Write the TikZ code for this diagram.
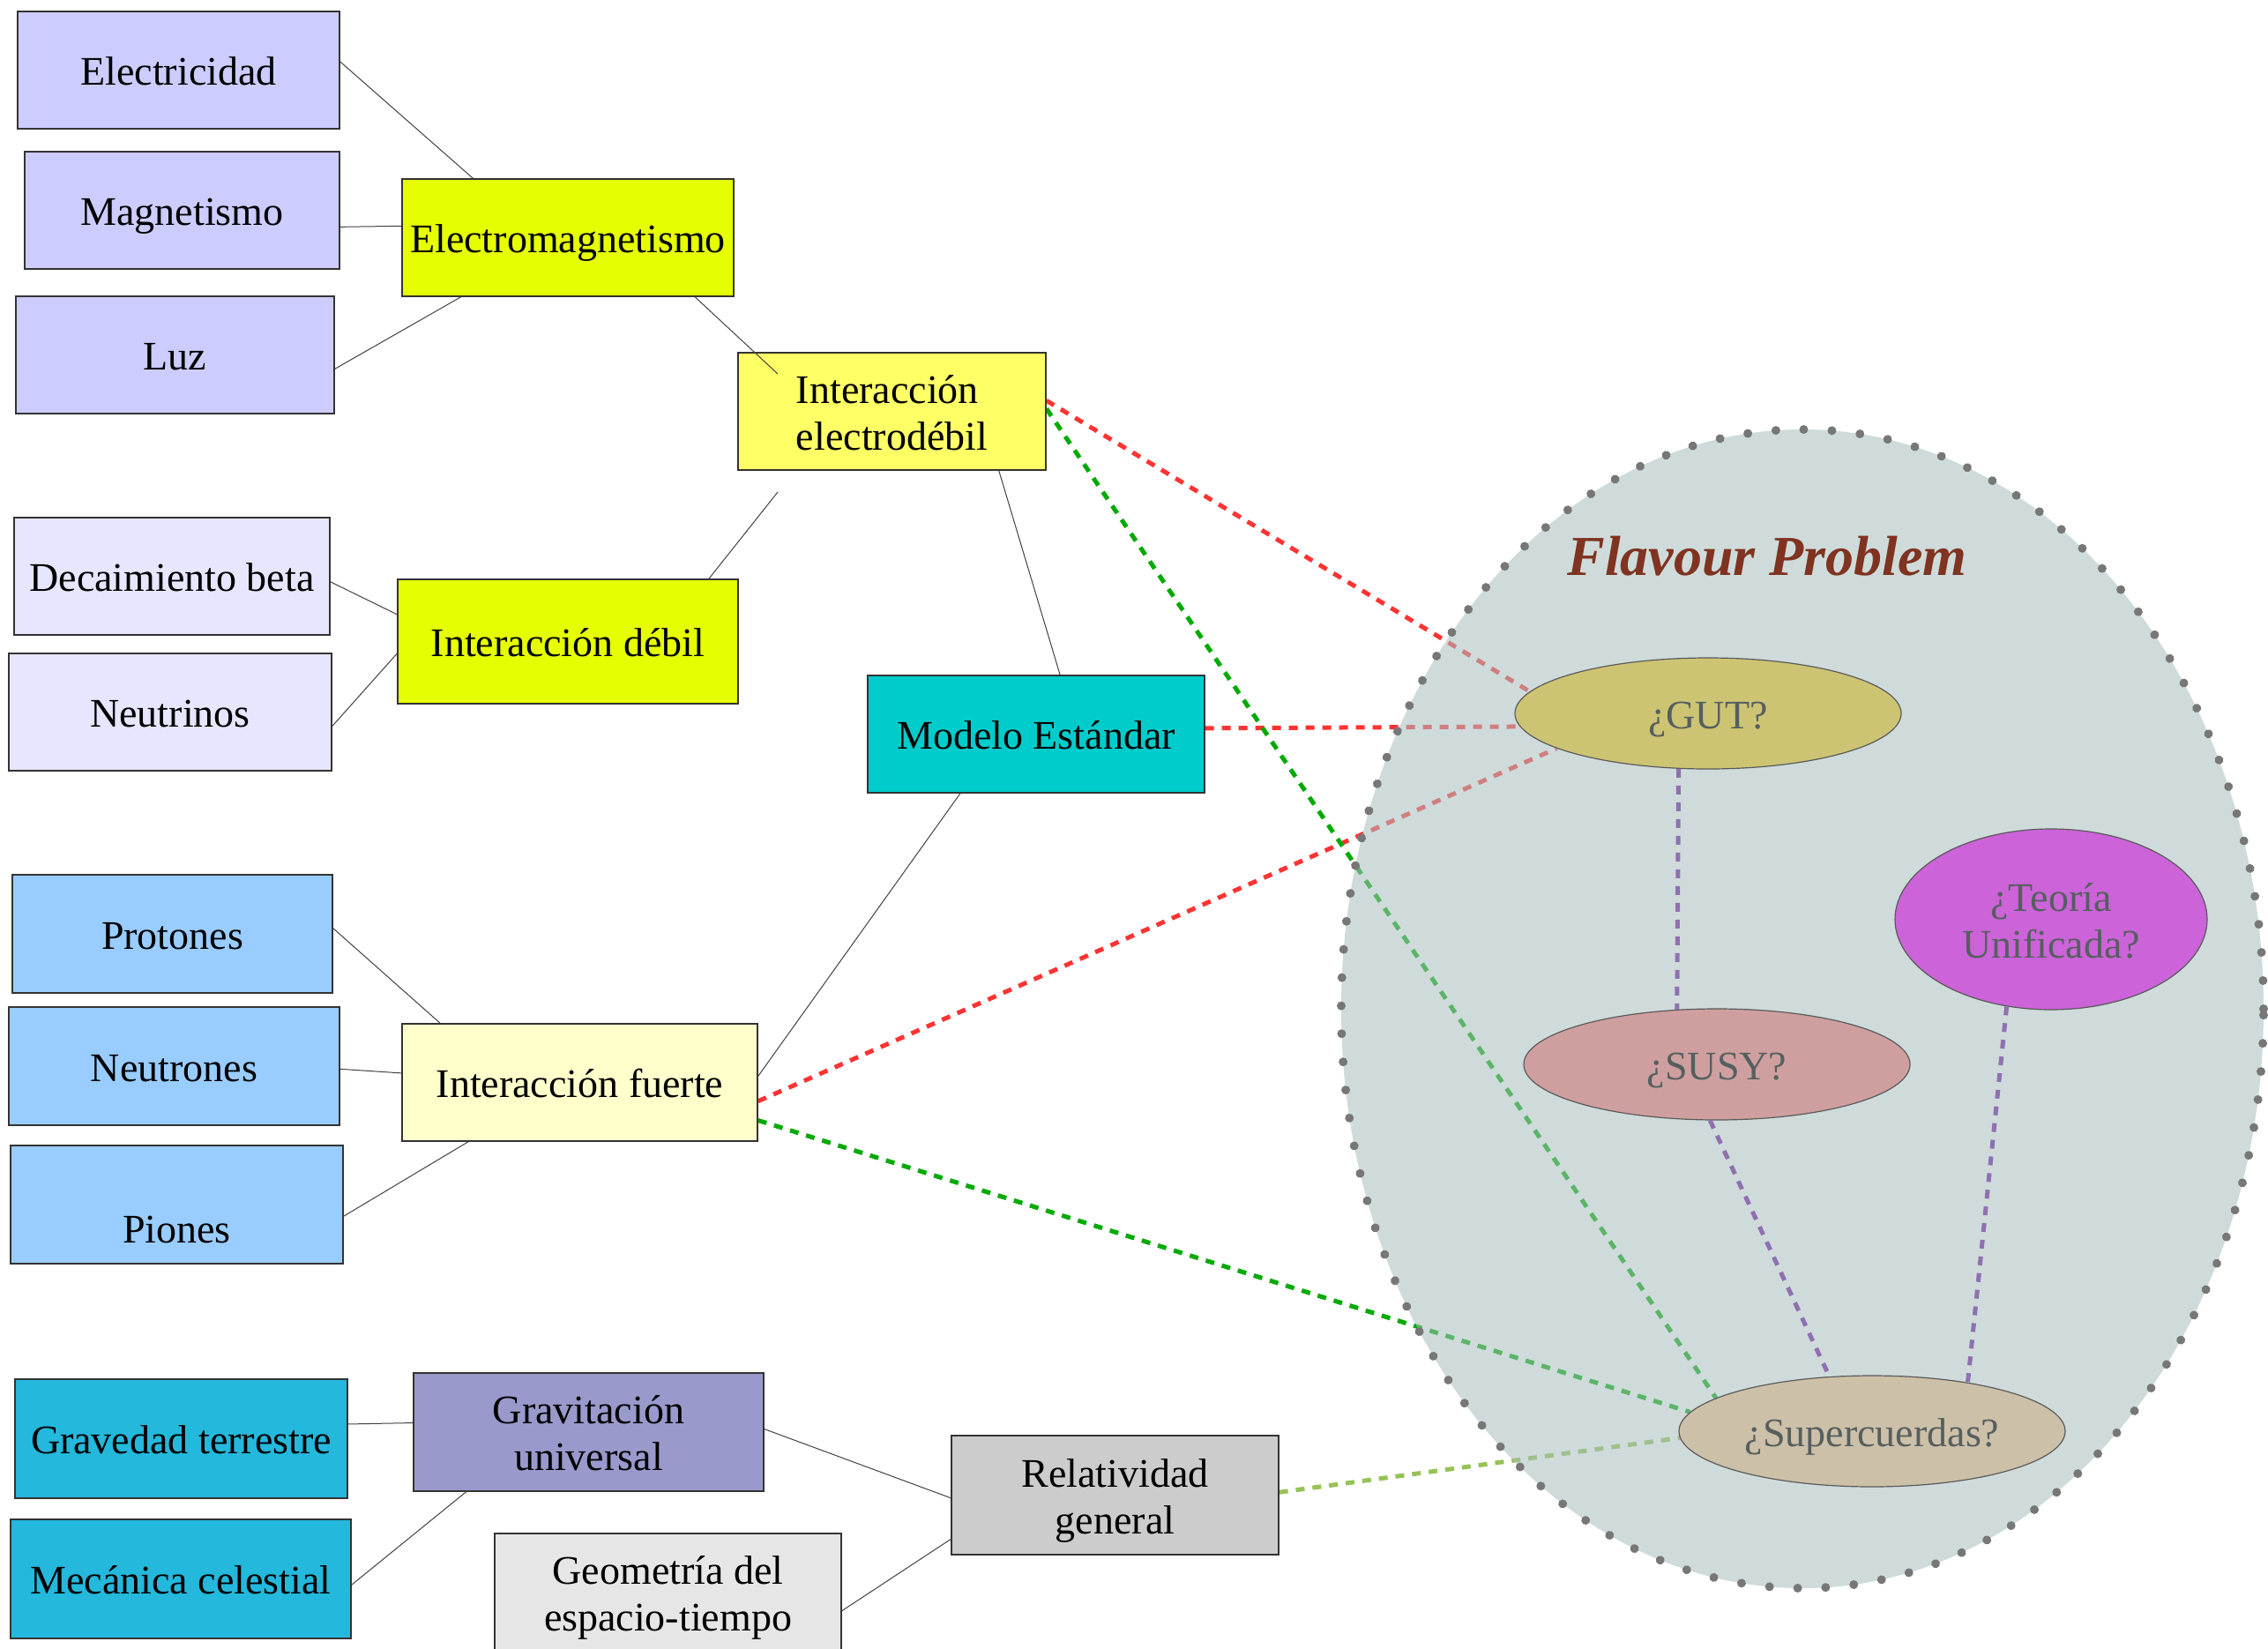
\documentclass[tikz,border=0pt]{standalone}
\usepackage{fontspec}
\setmainfont{Liberation Serif}
\usetikzlibrary{shapes.geometric, decorations.markings}
\pgfdeclarelayer{background}
\pgfsetlayers{background,main}

\definecolor{elecblue}{HTML}{CCCCFF}
\definecolor{emyellow}{HTML}{E6FF00}
\definecolor{ewyellow}{HTML}{FFFF66}
\definecolor{weaklilac}{HTML}{E6E6FF}
\definecolor{smcyan}{HTML}{00CCCC}
\definecolor{nucblue}{HTML}{99CCFF}
\definecolor{strongcream}{HTML}{FFFFCC}
\definecolor{gravcyan}{HTML}{23B8DC}
\definecolor{gravviolet}{HTML}{9999CC}
\definecolor{geogray}{HTML}{E6E6E6}
\definecolor{relgray}{HTML}{CCCCCC}
\definecolor{gutolive}{HTML}{CDC473}
\definecolor{susyrose}{HTML}{CF9F9F}
\definecolor{toemagenta}{HTML}{CC63D9}
\definecolor{suptan}{HTML}{CDC0A8}
\definecolor{flavfill}{RGB}{168,190,190}
\definecolor{flavdot}{HTML}{777777}
\definecolor{flavtext}{HTML}{7F3320}
\definecolor{qtext}{HTML}{555F5F}
\definecolor{linkred}{HTML}{FF3333}
\definecolor{linkgreen}{HTML}{00AA00}
\definecolor{linklime}{RGB}{150,195,85}
\definecolor{linkpurple}{RGB}{143,112,176}

\begin{document}
\begin{tikzpicture}[x={(5pt, 0pt)}, y={(0pt, -5pt)}]
  \tikzstyle{box}=[draw=black!80, line width=0.7pt, inner sep=0pt, minimum height=66.5pt, text height=17.5pt, text depth=0.5pt, font=\fontsize{23}{26.5}\selectfont]
  \tikzstyle{guess}=[ellipse, draw=black!65, line width=0.6pt, inner sep=0pt, text height=17.5pt, text depth=0.5pt, text=qtext, font=\fontsize{23}{26.5}\selectfont]
  \tikzstyle{pair}=[text height=44pt]
  \tikzstyle{tie}=[black!75, line width=0.5pt]
  \tikzstyle{link}=[line width=2.5pt, dash pattern=on 5pt off 4.5pt]
  \tikzstyle{dots}=[decorate, decoration={markings, mark=between positions 0 and 1 step 16pt with {\fill[flavdot] (0,0) circle (2.5pt);}}]
  \useasboundingbox (0, 0) rectangle (257.2, 187);

  \node[box, fill=elecblue, minimum width=182.5pt] (elec) at (20.25, 7.95) {Electricidad};
  \node[box, fill=elecblue, minimum width=178.5pt] (magn) at (20.65, 23.85) {Magnetismo};
  \node[box, fill=elecblue, minimum width=180.5pt] (luz) at (19.85, 40.25) {Luz};
  \node[box, fill=emyellow, minimum width=188pt] (em) at (64.4, 26.95) {Electromagnetismo};
  \draw[tie] (elec.3) -- (em.148);
  \draw[tie] (magn.354) -- (em.176);
  \draw[tie] (luz.355) -- (em.209);

  \node[box, pair, fill=ewyellow, minimum width=174.5pt, align=left] (ew) at (101.15, 46.65) {Interacción\\electrodébil};
  \coordinate (ew-in) at (88.2, 42.4);
  \coordinate (ew-low) at (88.2, 55.8);
  \draw[tie] (em.335) -- (ew-in);

  \node[box, fill=weaklilac, minimum width=179pt] (dec) at (19.5, 65.35) {Decaimiento beta};
  \node[box, fill=weaklilac, minimum width=183pt] (neu) at (19.3, 80.75) {Neutrinos};
  \node[box, fill=emyellow, minimum width=193pt, minimum height=70.5pt] (debil) at (64.4, 72.75) {Interacción débil};
  \draw[tie] (debil.24) -- (ew-low);
  \draw[tie] (dec.358) -- (debil.171);
  \draw[tie] (neu.355) -- (debil.184);

  \node[box, fill=smcyan, minimum width=191pt] (sm) at (117.5, 83.25) {Modelo Estándar};
  \draw[tie] (ew.331) -- (sm.68);

  \node[box, fill=nucblue, minimum width=181.5pt, minimum height=67pt] (prot) at (19.55, 105.9) {Protones};
  \node[box, fill=nucblue, minimum width=187.5pt, minimum height=67pt] (neut) at (19.75, 120.9) {Neutrones};
  \node[box, fill=nucblue, minimum width=188.5pt, minimum height=67pt] (pion) at (20.05, 136.6) {\raisebox{-13pt}{Piones}};
  \node[box, fill=strongcream, minimum width=201.5pt] (fuerte) at (65.75, 122.75) {Interacción fuerte};
  \draw[tie] (prot.2) -- (fuerte.157);
  \draw[tie] (neut.359) -- (fuerte.177);
  \draw[tie] (pion.356) -- (fuerte.208);
  \draw[tie] (sm.218) -- (fuerte.2);

  \node[box, fill=gravcyan, minimum width=188.5pt, minimum height=67.5pt] (grav) at (20.55, 163.15) {Gravedad terrestre};
  \node[box, fill=gravcyan, minimum width=193pt, minimum height=67.5pt] (mec) at (20.5, 179.05) {Mecánica celestial};
  \node[box, pair, fill=gravviolet, minimum width=198.5pt, minimum height=67pt, align=center] (gu) at (66.75, 162.4) {Gravitación\\universal};
  \draw[tie] (grav.5) -- (gu.177);
  \draw[tie] (mec.358) -- (gu.206);

  \node[box, pair, fill=geogray, minimum width=196.5pt, minimum height=67pt, align=center] (geo) at (75.75, 180.6) {Geometría del\\espacio-tiempo};
  \node[box, pair, fill=relgray, minimum width=185.5pt, minimum height=67.5pt, align=center] (rel) at (126.45, 169.55) {Relatividad\\general};
  \draw[tie] (gu.1) -- (rel.181);
  \draw[tie] (geo.354) -- (rel.195);

  \node[guess, fill=gutolive, minimum width=219pt, minimum height=63pt] (gut) at (193.7, 80.9) {¿GUT?};
  \node[guess, fill=susyrose, minimum width=219pt, minimum height=63pt] (susy) at (194.7, 120.7) {¿SUSY?};
  \node[guess, pair, fill=toemagenta, minimum width=177pt, minimum height=102.5pt, align=center] (toe) at (232.6, 104.25) {¿Teoría\\Unificada?};
  \node[guess, fill=suptan, minimum width=219pt, minimum height=63pt] (sup) at (212.3, 162.3) {¿Supercuerdas?};
  \node[text=flavtext, font=\fontsize{32}{36}\selectfont\bfseries\itshape] (flav) at (200.4, 63.1) {Flavour Problem};

  \draw[link, linkpurple] (gut.242) -- (susy.126);
  \draw[link, linkpurple] (susy.263) -- (sup.128);
  \draw[link, linkpurple] (toe.243) -- (sup.27);

  \begin{pgfonlayer}{background}
    \draw[link, linkred] (ew.4) -- (gut.173);
    \draw[link, linkred] (sm.2) -- (gut.184);
    \draw[link, linkred] (fuerte.354) -- (gut.193);
    \draw[link, linkgreen] (ew.1) -- (sup.168);
    \draw[link, linkgreen] (fuerte.348) -- (sup.174);
    \draw[link, linklime] (rel.1) -- (sup.182);
    \fill[flavfill, fill opacity=0.55] (204.4, 114.4) ellipse [x radius=261.5pt, y radius=328.5pt];
    \path[dots] (204.4, 114.4) ellipse [x radius=261.5pt, y radius=328.5pt];
  \end{pgfonlayer}
\end{tikzpicture}
\end{document}
